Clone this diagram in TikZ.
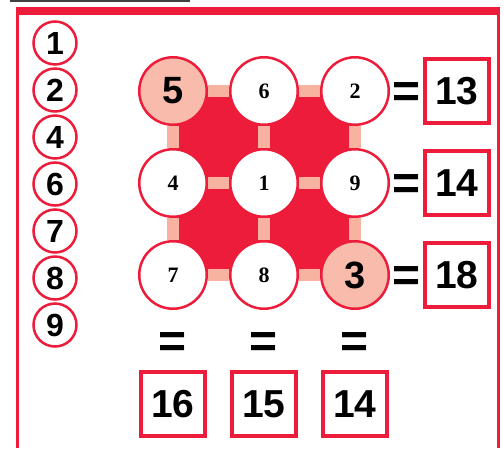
\documentclass[tikz,border=0pt]{standalone}
\usepackage{fontspec}
\setmainfont{Liberation Serif}
\newfontfamily\digitfont{Liberation Sans}
\usetikzlibrary{
    positioning,
    backgrounds
}
\definecolor{PuzzleRed}{RGB}{237,28,58}
\definecolor{PuzzlePink}{RGB}{249,187,172}
\definecolor{BarPink}{RGB}{247,178,160}

\begin{document}
\begin{tikzpicture}[
    x=1pt,
    y=-1pt,
    node distance=22pt and 21pt,
    pick/.style={circle, draw=PuzzleRed, line width=2.5pt, fill=white,
        inner sep=0pt, minimum size=43pt,
        font=\digitfont\bfseries\fontsize{32}{32}\selectfont},
    cell/.style={circle, draw=PuzzleRed, line width=2.5pt, fill=white,
        inner sep=0pt, minimum size=67.5pt,
        font=\bfseries\fontsize{22}{22}\selectfont},
    given/.style={cell, fill=PuzzlePink,
        font=\digitfont\bfseries\fontsize{38}{38}\selectfont},
    total/.style={draw=PuzzleRed, line width=3.5pt, fill=white,
        inner sep=0pt, minimum size=64pt,
        font=\digitfont\bfseries\fontsize{39}{39}\selectfont},
    equals/.style={inner sep=0pt,
        font=\digitfont\bfseries\fontsize{48}{48}\selectfont},
    bar/.style={BarPink, line width=12pt}
]
\useasboundingbox (0,0) rectangle (504,448);

% frame
\draw[line width=1.5pt, black!75] (10,1) -- (190,1);
\fill[PuzzleRed] (16,7) rectangle (500,15);
\fill[PuzzleRed] (16,7) rectangle (19,448);
\fill[PuzzleRed] (497,7) rectangle (500,448);

% digits to choose from
\node[pick] (p1) at (55,43) {1};
\node[pick, below=1.5pt of p1] (p2) {2};
\node[pick, below=1.5pt of p2] (p4) {4};
\node[pick, below=1.5pt of p4] (p6) {6};
\node[pick, below=1.5pt of p6] (p7) {7};
\node[pick, below=1.5pt of p7] (p8) {8};
\node[pick, below=1.5pt of p8] (p9) {9};

% the square
\node[given] (c11) at (173,91) {5};
\node[cell, right=of c11] (c12) {6};
\node[cell, right=of c12] (c13) {2};
\node[cell, below=of c11] (c21) {4};
\node[cell, right=of c21] (c22) {1};
\node[cell, right=of c22] (c23) {9};
\node[cell, below=of c21] (c31) {7};
\node[cell, right=of c31] (c32) {8};
\node[given, right=of c32] (c33) {3};

\begin{scope}[on background layer]
    \fill[PuzzleRed] (c11.center) rectangle (c33.center);
    \draw[bar] (c11) -- (c12);
    \draw[bar] (c12) -- (c13);
    \draw[bar] (c21) -- (c22);
    \draw[bar] (c22) -- (c23);
    \draw[bar] (c31) -- (c32);
    \draw[bar] (c32) -- (c33);
    \draw[bar] (c11) -- (c21);
    \draw[bar] (c21) -- (c31);
    \draw[bar] (c12) -- (c22);
    \draw[bar] (c22) -- (c32);
    \draw[bar] (c13) -- (c23);
    \draw[bar] (c23) -- (c33);
\end{scope}

% row sums
\node[equals, right=2pt of c13, yshift=-4pt] (eqr1) {=};
\node[total, right=3pt of c13, xshift=30pt] (r1) {13};
\node[equals, right=2pt of c23, yshift=-4pt] (eqr2) {=};
\node[total, right=3pt of c23, xshift=30pt] (r2) {14};
\node[equals, right=2pt of c33, yshift=-4pt] (eqr3) {=};
\node[total, right=3pt of c33, xshift=30pt] (r3) {18};

% column sums
\node[equals, below=22pt of c31] (eqc1) {=};
\node[total, below=13pt of eqc1] (s1) {16};
\node[equals, below=22pt of c32] (eqc2) {=};
\node[total, below=13pt of eqc2] (s2) {15};
\node[equals, below=22pt of c33] (eqc3) {=};
\node[total, below=13pt of eqc3] (s3) {14};

\end{tikzpicture}
\end{document}
